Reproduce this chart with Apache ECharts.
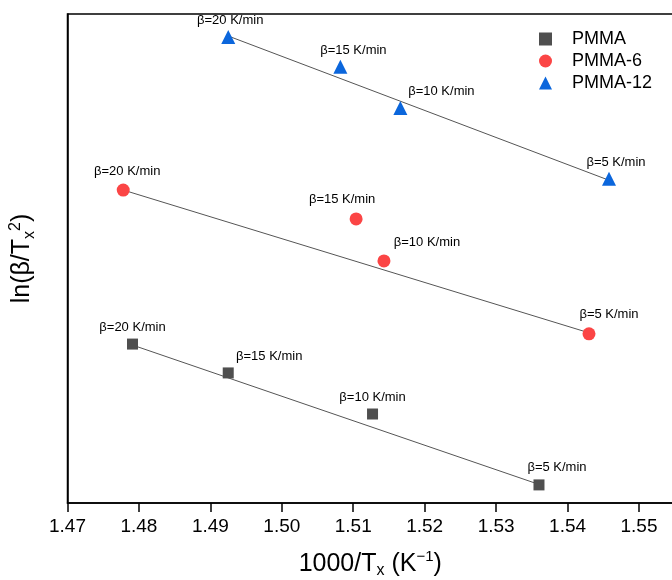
<!DOCTYPE html>
<html>
<head>
<meta charset="utf-8">
<script src="https://cdn.jsdelivr.net/npm/echarts@6/dist/echarts.min.js"></script>
<style>
  html, body { margin: 0; padding: 0; background: #fff; }
  #chart { width: 672px; height: 580px; }
</style>
</head>
<body>
<div id="chart"></div>
<script>
// heating rates (labels on each point)
const rates = ['β=20 K/min', 'β=15 K/min', 'β=10 K/min', 'β=5 K/min']

// 1000/Tx values
const xPMMA = [1.4791, 1.4925, 1.5127, 1.5360]
const xPMMA6 = [1.4778, 1.5104, 1.5143, 1.5430]
const xPMMA12 = [1.4925, 1.5082, 1.5166, 1.5458]

// ln(beta/Tx^2), arbitrary units (no tick labels in the original)
const yPMMA = [32.5, 26.6, 18.2, 3.7]
const yPMMA6 = [64.0, 58.1, 49.5, 34.6]
const yPMMA12 = [95.3, 89.2, 80.8, 66.3]

// fitted line end points
const fitPMMA = [[1.4791, 32.3], [1.5360, 3.8]]
const fitPMMA6 = [[1.4778, 64.0], [1.5430, 34.8]]
const fitPMMA12 = [[1.4925, 95.5], [1.5458, 66.0]]

// label shifts for the rate texts (px)
const labelDx = {
  PMMA: [0, 41, 0, 18],
  'PMMA-6': [4, -14, 43, 20],
  'PMMA-12': [2, 13, 41, 7]
}

const font = 'Liberation Sans, Arial, sans-serif'

function points(name, xs, ys) {
  return xs.map((x, i) => ({
    value: [x, ys[i]],
    label: { offset: [labelDx[name][i], 0] }
  }))
}

function scatter(name, xs, ys, symbol, color, size, gap) {
  return {
    name: name,
    type: 'scatter',
    symbol: symbol,
    symbolSize: size,
    itemStyle: { color: color, opacity: 1 },
    label: {
      show: true,
      position: 'top',
      distance: gap,
      color: '#000',
      fontSize: 13,
      fontFamily: font,
      formatter: p => rates[p.dataIndex]
    },
    data: points(name, xs, ys),
    z: 3
  }
}

function fit(data) {
  return {
    type: 'line',
    showSymbol: false,
    silent: true,
    lineStyle: { color: '#555', width: 1 },
    data: data,
    z: 2
  }
}

const chart = echarts.init(document.getElementById('chart'))
chart.setOption({
  animation: false,
  textStyle: { fontFamily: font },
  grid: {
    left: 67.5,
    top: 14,
    width: 605.5,
    bottom: 77,
    outerBoundsMode: 'none',
    containLabel: false,
    show: true,
    borderColor: '#000',
    borderWidth: 1.5
  },
  legend: {
    orient: 'vertical',
    left: 534,
    top: 25,
    itemGap: 4,
    itemWidth: 13,
    itemHeight: 13,
    data: ['PMMA', 'PMMA-6', 'PMMA-12'],
    textStyle: { fontSize: 18, color: '#000', fontFamily: font, padding: [0, 0, 0, 15] }
  },
  xAxis: {
    type: 'value',
    min: 1.47,
    max: 1.55476,
    interval: 0.01,
    name: '{a|1000/T}{s|x}{a| (K}{p|−1}{a|)}',
    nameLocation: 'middle',
    nameGap: 46,
    nameTextStyle: {
      rich: {
        a: { fontSize: 25, color: '#000', fontFamily: font },
        s: { fontSize: 16, color: '#000', fontFamily: font, verticalAlign: 'bottom', padding: [14, 0, 0, 0] },
        p: { fontSize: 15, color: '#000', fontFamily: font, verticalAlign: 'top', padding: [0, 0, 10, 0] }
      }
    },
    axisLine: { lineStyle: { color: '#000', width: 1.5 } },
    axisTick: { inside: false, length: 9, lineStyle: { color: '#000', width: 1.5 } },
    axisLabel: {
      fontSize: 19,
      color: '#000',
      margin: 14,
      showMaxLabel: false,
      formatter: v => v.toFixed(2)
    },
    splitLine: { show: false }
  },
  yAxis: {
    type: 'value',
    min: 0,
    max: 100,
    name: '{a|ln(β/T}{s|x}{p|2}{a|)}',
    nameLocation: 'middle',
    nameGap: 30,
    nameRotate: 90,
    nameTextStyle: {
      rich: {
        a: { fontSize: 25, color: '#000', fontFamily: font },
        s: { fontSize: 16, color: '#000', fontFamily: font, verticalAlign: 'bottom', padding: [14, 0, 0, 0] },
        p: { fontSize: 16, color: '#000', fontFamily: font, verticalAlign: 'top', padding: [0, 0, 12, 0] }
      }
    },
    axisLine: { show: true, lineStyle: { color: '#000', width: 1.5 } },
    axisTick: { show: false },
    axisLabel: { show: false },
    splitLine: { show: false }
  },
  series: [
    fit(fitPMMA),
    fit(fitPMMA6),
    fit(fitPMMA12),
    scatter('PMMA', xPMMA, yPMMA, 'rect', '#4f4f4f', 11, 5),
    scatter('PMMA-6', xPMMA6, yPMMA6, 'circle', '#fb4545', 13, 6),
    scatter('PMMA-12', xPMMA12, yPMMA12, 'triangle', '#0b66dc', 14, 3)
  ]
})
</script>
</body>
</html>
